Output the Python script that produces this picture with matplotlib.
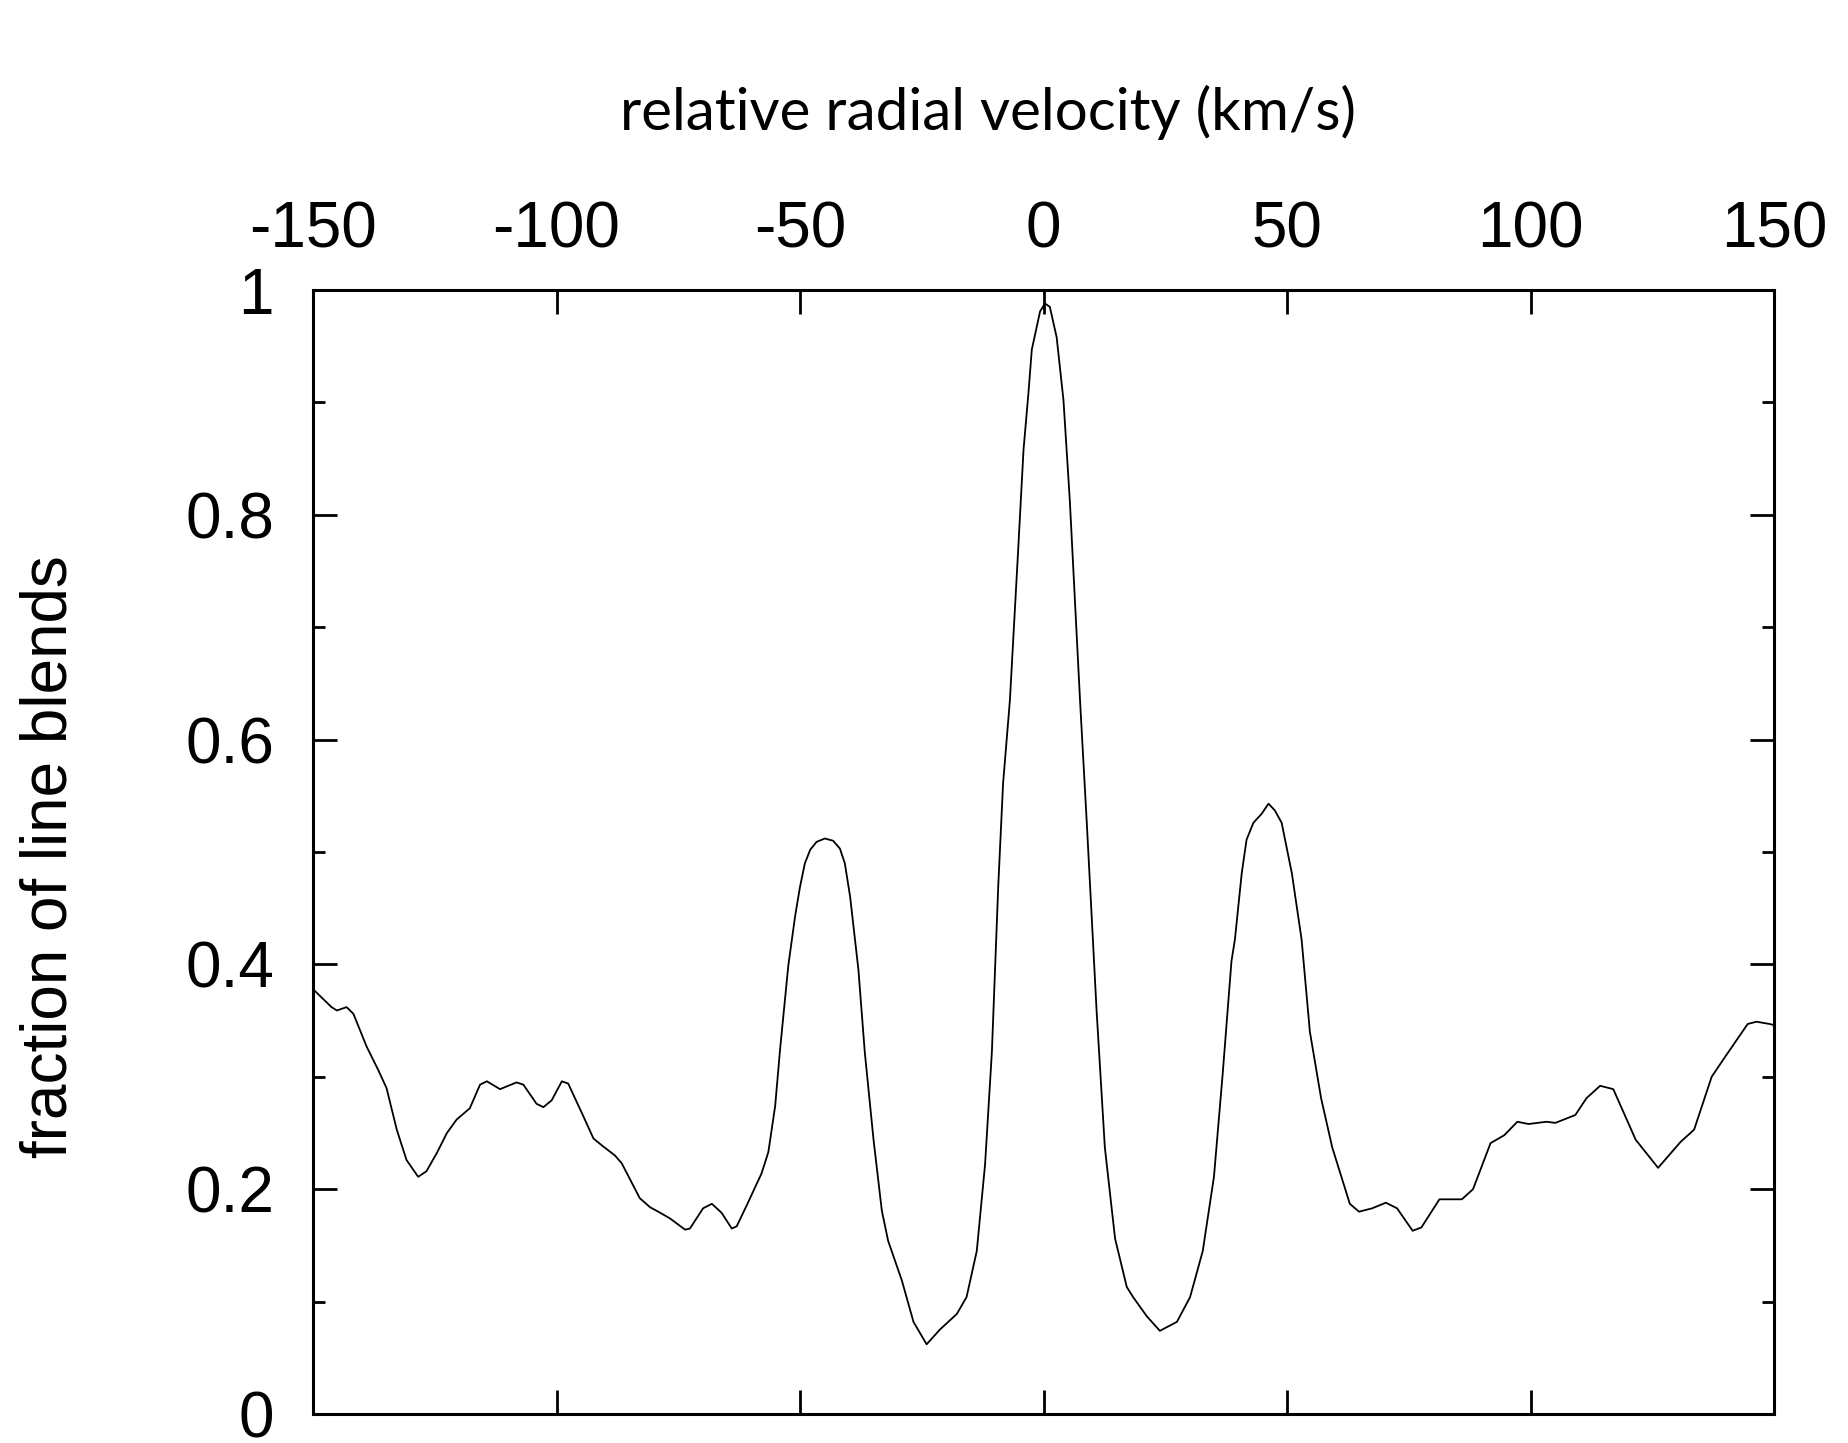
import matplotlib.pyplot as plt
from matplotlib.ticker import MultipleLocator

# relative radial velocity (km/s) and fraction of line blends
velocity = [-150.0, -146.2, -145.1, -143.1, -141.7, -139.0, -136.6, -134.9, -132.8, -130.8,
            -128.4, -126.7, -124.6, -122.5, -120.5, -117.8, -115.7, -114.3, -111.6, -108.2,
            -106.8, -104.1, -102.7, -101.0, -98.9, -97.6, -94.5, -92.4, -90.4, -88.0,
            -86.6, -82.9, -80.8, -78.7, -76.7, -73.6, -72.6, -69.9, -68.1, -66.1,
            -64.0, -63.0, -60.9, -57.9, -56.5, -55.1, -54.1, -52.4, -51.0, -50.0,
            -49.0, -47.9, -46.6, -44.9, -43.2, -41.8, -40.8, -39.7, -38.0, -36.7,
            -34.9, -33.2, -31.9, -29.1, -26.7, -24.0, -21.3, -17.8, -15.8, -13.7,
            -12.0, -10.6, -9.3, -8.3, -6.9, -5.2, -4.1, -3.1, -2.4, -0.7,
            0.3, 1.3, 2.7, 4.1, 5.4, 7.5, 8.9, 10.9, 12.6, 14.7,
            17.1, 18.4, 21.2, 23.9, 27.4, 30.1, 32.7, 35.0, 36.8, 38.6,
            39.3, 40.7, 41.7, 43.1, 44.8, 46.2, 47.5, 48.9, 51.0, 53.0,
            54.7, 57.0, 59.3, 62.9, 64.8, 67.5, 70.3, 72.6, 75.8, 77.6,
            81.3, 85.9, 88.2, 91.8, 94.6, 97.3, 99.6, 103.3, 105.1, 109.2,
            111.5, 114.3, 117.0, 121.6, 126.2, 130.8, 133.6, 137.2, 140.0, 144.6,
            146.4, 149.1, 150.0]
fraction = [0.378, 0.362, 0.359, 0.362, 0.356, 0.327, 0.306, 0.290, 0.253, 0.226,
            0.211, 0.216, 0.232, 0.250, 0.262, 0.272, 0.293, 0.296, 0.289, 0.295,
            0.293, 0.276, 0.273, 0.279, 0.296, 0.294, 0.265, 0.245, 0.238, 0.230,
            0.223, 0.192, 0.184, 0.179, 0.174, 0.164, 0.165, 0.183, 0.187, 0.179,
            0.165, 0.167, 0.186, 0.214, 0.233, 0.274, 0.324, 0.399, 0.443, 0.469,
            0.490, 0.502, 0.509, 0.512, 0.510, 0.503, 0.490, 0.460, 0.395, 0.322,
            0.244, 0.181, 0.154, 0.119, 0.082, 0.062, 0.075, 0.089, 0.104, 0.145,
            0.222, 0.322, 0.469, 0.561, 0.635, 0.769, 0.858, 0.908, 0.947, 0.981,
            0.988, 0.985, 0.958, 0.902, 0.813, 0.635, 0.525, 0.359, 0.237, 0.156,
            0.113, 0.104, 0.087, 0.074, 0.082, 0.104, 0.145, 0.211, 0.303, 0.403,
            0.422, 0.481, 0.511, 0.526, 0.534, 0.543, 0.537, 0.526, 0.481, 0.422,
            0.340, 0.281, 0.237, 0.187, 0.180, 0.183, 0.188, 0.183, 0.163, 0.166,
            0.191, 0.191, 0.200, 0.241, 0.248, 0.260, 0.258, 0.260, 0.259, 0.266,
            0.281, 0.292, 0.289, 0.244, 0.219, 0.242, 0.253, 0.300, 0.318, 0.347,
            0.349, 0.347, 0.346]

x_ticks = [-150, -100, -50, 0, 50, 100, 150]
y_ticks = [0, 0.2, 0.4, 0.6, 0.8, 1]
y_labels = ["0", "0.2", "0.4", "0.6", "0.8", "1"]

fig = plt.figure(figsize=(18.48, 14.43), dpi=100)
ax = fig.add_axes([313/1848, 1 - 1414/1443, 1461/1848, 1124/1443])

ax.plot(velocity, fraction, color="black", lw=1.3)

ax.set_xlim(-150, 150)
ax.set_ylim(0, 1)
ax.set_xticks(x_ticks)
ax.set_xticklabels([str(v) for v in x_ticks])
ax.set_yticks(y_ticks)
ax.set_yticklabels(y_labels)
ax.yaxis.set_minor_locator(MultipleLocator(0.1))

ax.tick_params(which="both", direction="in", top=True, bottom=True, left=True, right=True,
               labeltop=True, labelbottom=False, width=2)
ax.tick_params(which="major", length=17)
ax.tick_params(which="minor", length=8.5)
ax.tick_params(axis="x", pad=21)
ax.tick_params(axis="y", pad=28)
for lab in ax.get_xticklabels() + ax.get_yticklabels():
    lab.set_fontfamily("Liberation Sans")
    lab.set_fontsize(46)
for s in ax.spines.values():
    s.set_linewidth(2.2)

fig.text(988/1848, 1 - 112/1443, "relative radial velocity (km/s)", ha="center", va="center",
         fontsize=42, fontfamily="Lato")
fig.text(50/1848, 1 - 857/1443, "fraction of line blends", ha="center", va="center",
         rotation=90, fontsize=46, fontfamily="Liberation Sans")

fig.savefig("out.png", dpi=100)
